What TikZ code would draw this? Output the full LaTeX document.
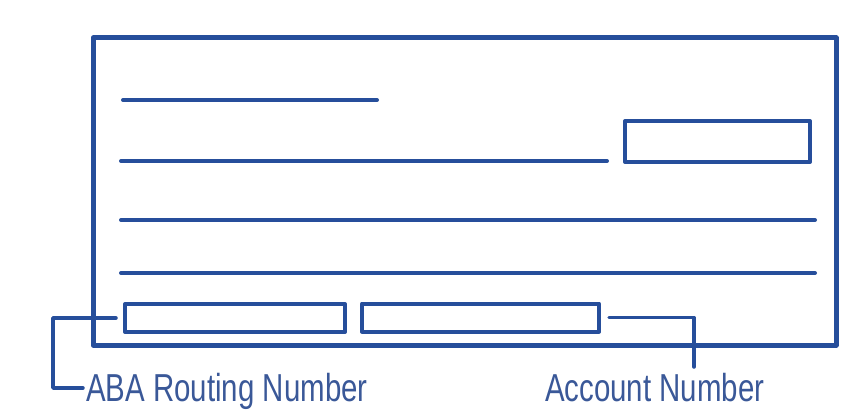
\documentclass[tikz,border=0pt]{standalone}
\usepackage{fontspec}
\setmainfont{Liberation Sans}
\definecolor{ink}{RGB}{38,78,155}
\definecolor{txt}{RGB}{58,88,152}
\begin{document}
\begin{tikzpicture}[x=1pt,y=-1pt,
  pen/.style={draw=ink,line width=4pt,line cap=round,line join=round},
  frame/.style={draw=ink,line width=5pt,line cap=round,line join=round},
  fieldbox/.style={pen,rectangle,inner sep=0pt,fill=none},
  lbl/.style={text=txt,font=\fontsize{39}{44}\selectfont,inner sep=0pt,xscale=0.755,transform shape},
  conn/.style={draw=ink,line width=3.5pt,line cap=round,line join=round}]
\useasboundingbox (0,0) rectangle (866,417);
% outer frame
\draw[frame] (93,38) -- (836,38) -- (836,345) -- (93,345) -- cycle;
% lines
\draw[pen] (123,100) -- (377,100);
\draw[pen] (121,161) -- (607,161);
\draw[pen] (121,220) -- (815,220);
\draw[pen] (121,273) -- (815,273);
% boxes
\node[fieldbox,minimum width=185pt,minimum height=41pt] (tb) at (717.5,141.5) {};
\node[fieldbox,minimum width=220pt,minimum height=28pt] (rb) at (235,318) {};
\node[fieldbox,minimum width=237pt,minimum height=28pt] (ab) at (480.5,317.5) {};
% labels
\node[lbl,anchor=base west] (rl) at (86,401) {ABA Routing Number};
\node[lbl,anchor=base west] (al) at (545,401) {Account Number};
% connectors
\coordinate (r1) at ([xshift=-7pt]rb.west);
\coordinate (r2) at (83,388);
\draw[conn] (r1) -- (53,318) |- (r2);
\coordinate (a1) at ([xshift=8pt]ab.east);
\coordinate (a2) at (694,367);
\draw[conn] (a1) -| (a2);
\end{tikzpicture}
\end{document}
